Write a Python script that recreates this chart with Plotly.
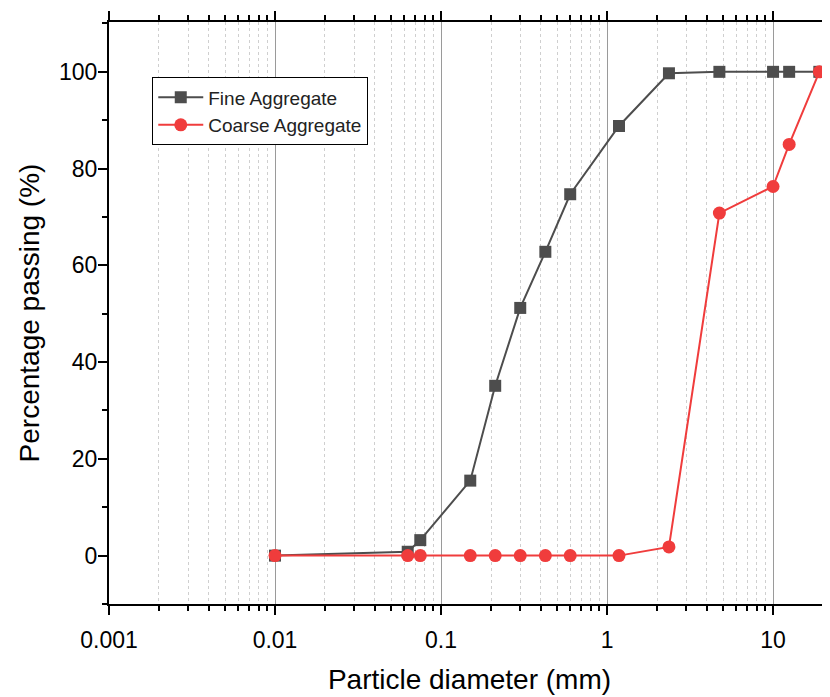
import plotly.graph_objects as go

# Sieve sizes (mm)
sieve_fine = [0.01, 0.063, 0.075, 0.15, 0.212, 0.3, 0.425, 0.6, 1.18, 2.36, 4.75, 10, 12.5, 19]
pass_fine = [0, 0.8, 3.2, 15.5, 35.1, 51.2, 62.8, 74.7, 88.8, 99.7, 100, 100, 100, 100]

sieve_coarse = [0.01, 0.063, 0.075, 0.15, 0.212, 0.3, 0.425, 0.6, 1.18, 2.36, 4.75, 10, 12.5, 19]
pass_coarse = [0, 0, 0, 0, 0, 0, 0, 0, 0, 1.8, 70.8, 76.3, 85.0, 100]

x_tickvals = [0.001, 0.01, 0.1, 1, 10]
x_ticktext = ["0.001", "0.01", "0.1", "1", "10"]
x_minorvals = [m * d for d in [0.001, 0.01, 0.1, 1, 10] for m in range(2, 10)]

y_tickvals = [0, 20, 40, 60, 80, 100]

FONT = "Arial, Liberation Sans, sans-serif"

fig = go.Figure()
fig.add_trace(go.Scatter(
    x=sieve_fine, y=pass_fine, mode="lines+markers", name="Fine Aggregate",
    line=dict(color="#4d4d4d", width=2),
    marker=dict(symbol="square", size=12, color="#4d4d4d"),
    cliponaxis=False,
))
fig.add_trace(go.Scatter(
    x=sieve_coarse, y=pass_coarse, mode="lines+markers", name="Coarse Aggregate",
    line=dict(color="#f03c3c", width=2),
    marker=dict(symbol="circle", size=13, color="#f03c3c"),
    cliponaxis=False,
))

fig.update_layout(
    width=822, height=689,
    margin=dict(l=101, r=0, t=14, b=93, autoexpand=False),
    paper_bgcolor="white", plot_bgcolor="white",
    font=dict(family=FONT, color="black"),
    showlegend=True,
    legend=dict(
        x=0.06, y=0.905, xanchor="left", yanchor="top",
        bgcolor="white", bordercolor="black", borderwidth=1,
        font=dict(size=19, family=FONT, color="#222222"),
        tracegroupgap=0, itemwidth=45,
    ),
)

fig.update_xaxes(
    type="log", range=[-3, 1.343], automargin=False,
    tickmode="array", tickvals=x_tickvals, ticktext=x_ticktext,
    tickfont=dict(size=23, family=FONT, color="black"),
    ticklabelstandoff=5,
    showline=True, linecolor="black", linewidth=2,
    mirror="allticks",
    ticks="outside", ticklen=9, tickwidth=2, tickcolor="black",
    showgrid=True, gridcolor="#9a9a9a", gridwidth=1,
    minor=dict(tickmode="array", tickvals=x_minorvals, ticks="outside",
               ticklen=5, tickwidth=2, tickcolor="black",
               showgrid=True, gridcolor="#cfcfcf", griddash="3px,3px", gridwidth=1),
    zeroline=False,
    title=dict(text="Particle diameter (mm)", font=dict(size=28, family=FONT, color="black"), standoff=18),
)

fig.update_yaxes(
    range=[-10, 110.3], automargin=False,
    tickmode="array", tickvals=y_tickvals,
    tickfont=dict(size=23, family=FONT, color="black"),
    ticklabelstandoff=-4,
    showline=True, linecolor="black", linewidth=2,
    ticks="outside", ticklen=9, tickwidth=2, tickcolor="black",
    showgrid=False, zeroline=False,
    minor=dict(dtick=10, tick0=10, ticks="outside", ticklen=5, tickwidth=2, tickcolor="black", showgrid=False),
    title=dict(text="Percentage passing (%)", font=dict(size=28, family=FONT, color="black"), standoff=11),
)

fig.write_html("out.html")
